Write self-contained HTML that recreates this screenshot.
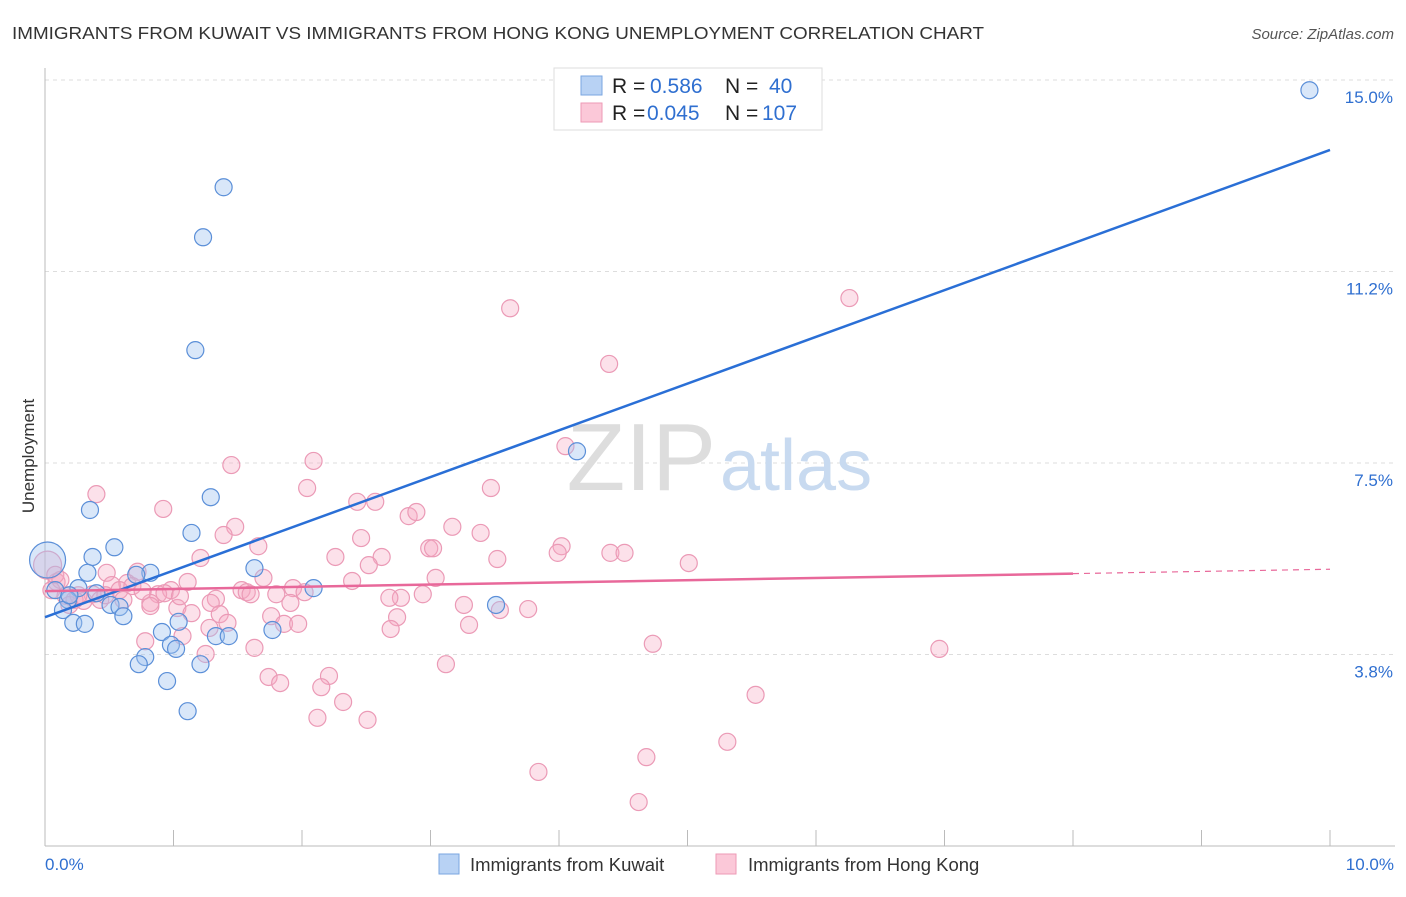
<!DOCTYPE html>
<html><head><meta charset="utf-8"><style>
body{margin:0;background:#fff;font-family:"Liberation Sans",sans-serif;}
svg text{font-family:"Liberation Sans",sans-serif;}
</style></head><body>
<svg id="chart" width="1406" height="892">
<text x="12" y="39" font-size="17.5" fill="#333" textLength="972" lengthAdjust="spacingAndGlyphs">IMMIGRANTS FROM KUWAIT VS IMMIGRANTS FROM HONG KONG UNEMPLOYMENT CORRELATION CHART</text>
<text x="1394" y="39" font-size="15" fill="#555" font-style="italic" text-anchor="end">Source: ZipAtlas.com</text>
<text x="34" y="456" font-size="17" fill="#333" text-anchor="middle" transform="rotate(-90 34 456)">Unemployment</text>
<g id="grid"></g>
<text x="716" y="490" font-size="96" fill="#ddd" font-family="Liberation Serif" text-anchor="end">ZIP</text>
<text x="720" y="490" font-size="72" fill="#c8daf0">atlas</text>
<g id="points"></g>
<g id="lines"></g>
<g>
<rect x="554" y="68" width="268" height="62" fill="#fff" stroke="#ddd"/>
<rect x="581" y="76" width="21" height="19" fill="#b8d2f4" stroke="#7aa6e0"/>
<rect x="581" y="103" width="21" height="19" fill="#fbc8d8" stroke="#ee9ab6"/>
<text x="612" y="93" font-size="21" fill="#222">R = <tspan x="650" fill="#2f6fd0">0.586</tspan><tspan x="725">N = </tspan><tspan x="769" fill="#2f6fd0">40</tspan></text>
<text x="612" y="120" font-size="21" fill="#222">R = <tspan x="647" fill="#2f6fd0">0.045</tspan><tspan x="725">N = </tspan><tspan x="762" fill="#2f6fd0">107</tspan></text>
</g>
<g>
<rect x="439" y="854" width="20" height="20" fill="#b8d2f4" stroke="#7aa6e0"/>
<text x="470" y="871" font-size="18.5" fill="#333">Immigrants from Kuwait</text>
<rect x="716" y="854" width="20" height="20" fill="#fbc8d8" stroke="#ee9ab6"/>
<text x="748" y="871" font-size="18.5" fill="#333">Immigrants from Hong Kong</text>
</g>
</svg>
<script>
const yTicks=[3.75,7.5,11.25,15];
const yTickLabels=["3.8%","7.5%","11.2%","15.0%"];
const xTickCount=10;
const xLabels=["0.0%","10.0%"];
const kuwaitX=[9.84,1.39,1.23,1.17,4.14,1.29,0.35,1.14,0.54,0.37,1.63,0.82,0.71,0.33,0.26,0.08,2.09,0.18,0.40,0.51,0.58,0.61,0.14,3.51,0.22,0.31,1.04,0.91,1.77,1.33,1.43,0.98,1.02,0.78,0.73,1.21,0.95,1.11,0.02,0.19];
const kuwaitY=[14.80,12.90,11.92,9.71,7.73,6.83,6.58,6.13,5.85,5.66,5.44,5.35,5.31,5.35,5.05,5.01,5.05,4.82,4.95,4.72,4.68,4.50,4.62,4.72,4.37,4.35,4.39,4.19,4.23,4.11,4.11,3.94,3.86,3.70,3.56,3.56,3.23,2.64,5.60,4.91];
const hkX=[3.62,6.26,4.39,4.05,1.45,2.09,0.40,2.04,3.47,0.92,2.43,2.57,2.83,2.89,3.17,3.39,1.48,1.39,2.46,1.66,2.99,3.02,4.02,3.99,4.40,4.51,1.21,2.26,2.62,3.52,5.01,2.52,0.48,0.72,1.70,3.04,1.11,2.39,0.64,0.52,0.09,1.53,1.57,1.60,1.80,1.93,2.02,2.94,0.98,0.88,0.37,0.58,2.77,2.68,1.33,1.29,0.82,0.61,0.30,1.91,3.26,0.82,1.03,1.36,1.14,3.76,3.54,1.76,2.74,1.42,1.86,1.97,3.30,2.69,1.07,0.78,1.28,4.73,6.96,1.63,1.25,3.12,2.21,1.74,1.83,2.15,2.32,5.53,2.12,2.51,5.31,4.68,3.84,4.62,0.02,0.08,0.12,0.05,0.16,0.23,0.19,0.43,0.68,0.93,1.05,0.76,0.47,0.26];
const hkY=[10.53,10.73,9.44,7.83,7.46,7.54,6.89,7.01,7.01,6.60,6.74,6.74,6.46,6.54,6.25,6.13,6.25,6.09,6.03,5.87,5.83,5.83,5.87,5.74,5.74,5.74,5.64,5.66,5.66,5.62,5.54,5.50,5.35,5.37,5.25,5.25,5.17,5.19,5.15,5.11,5.17,5.01,4.97,4.93,4.93,5.05,4.97,4.93,5.01,4.93,4.93,5.01,4.86,4.86,4.84,4.76,4.76,4.82,4.80,4.76,4.72,4.70,4.66,4.54,4.56,4.64,4.62,4.50,4.48,4.37,4.35,4.35,4.33,4.25,4.11,4.01,4.27,3.96,3.86,3.88,3.76,3.56,3.33,3.31,3.19,3.11,2.82,2.96,2.51,2.47,2.04,1.74,1.45,0.86,5.50,5.31,5.21,5.01,4.90,4.82,4.72,4.82,5.09,4.95,4.89,4.99,4.91,4.91];
const kuwaitTrend=[4.48,13.63];
const hkTrend=[4.99,5.42];
const hkSolidEnd=8.0;

const NS="http://www.w3.org/2000/svg";
const X0=45,X1=1330,YB=846,YT=80;
function sx(v){return X0+(X1-X0)*v/10;}
function sy(v){return YB-(YB-YT)*v/15;}
function mk(tag,attrs,parent){const e=document.createElementNS(NS,tag);for(const k in attrs)e.setAttribute(k,attrs[k]);parent.appendChild(e);return e;}
const grid=document.getElementById('grid');
yTicks.forEach((t,i)=>{
  const l=mk('line',{x1:X0,x2:1395,y1:sy(t),y2:sy(t),stroke:'#ddd','stroke-dasharray':'4,4'},grid);
  
  
  const tx=mk('text',{x:1393,y:sy(t)+23,'font-size':17,fill:'#2f6fd0','text-anchor':'end'},grid);
  tx.textContent=yTickLabels[i];
  
  
});
const ax=mk('line',{x1:X0,x2:X0,y1:68,y2:YB,stroke:'#bbb'},grid);


const bx=mk('line',{x1:X0,x2:1395,y1:YB,y2:YB,stroke:'#bbb'},grid);


for(let i=0;i<=xTickCount;i++){
  const t=mk('line',{x1:sx(i),x2:sx(i),y1:830,y2:YB,stroke:'#bbb'},grid);
  
  
}
[[0,45,'start'],[10,1394,'end']].forEach((d,i)=>{
  const t=mk('text',{x:d[1],y:870,'font-size':17,fill:'#2f6fd0','text-anchor':d[2]},grid);
  t.textContent=xLabels[i];
  
  
});
const pts=document.getElementById('points');
hkX.forEach((x,i)=>{
  const c=mk('circle',{cx:sx(x),cy:sy(hkY[i]),r:i==94?14:8.5,fill:'rgba(246,170,196,0.35)',stroke:'#eb9ab6','stroke-width':1.2},pts);
  
  
});
kuwaitX.forEach((x,i)=>{
  const c=mk('circle',{cx:sx(x),cy:sy(kuwaitY[i]),r:i==38?18:8.5,fill:'rgba(160,196,240,0.4)',stroke:'#5b8fd8','stroke-width':1.2},pts);
  
  
});
const lines=document.getElementById('lines');
const bl=mk('line',{x1:sx(0),y1:sy(kuwaitTrend[0]),x2:sx(10),y2:sy(kuwaitTrend[1]),stroke:'#2a6fd6','stroke-width':2.5},lines);


const hm=hkTrend[0]+(hkTrend[1]-hkTrend[0])*hkSolidEnd/10;
const pl=mk('line',{x1:sx(0),y1:sy(hkTrend[0]),x2:sx(hkSolidEnd),y2:sy(hm),stroke:'#e8689a','stroke-width':2.5},lines);


const pd=mk('line',{x1:sx(hkSolidEnd),y1:sy(hm),x2:sx(10),y2:sy(hkTrend[1]),stroke:'#e8689a','stroke-width':1.2,'stroke-dasharray':'6,5'},lines);


</script>
</body></html>
